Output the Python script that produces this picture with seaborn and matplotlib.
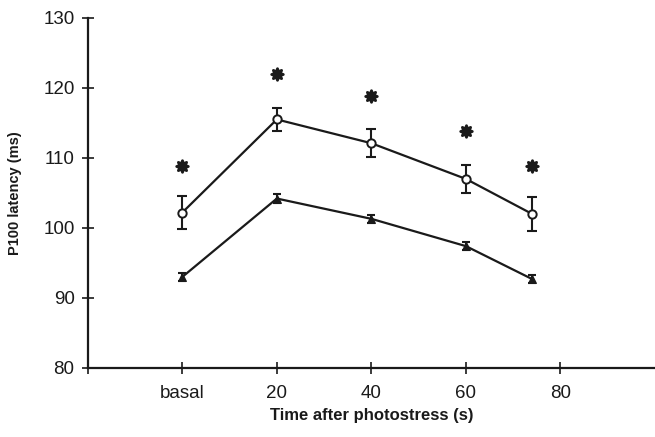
import matplotlib
matplotlib.use("Agg")
import matplotlib.pyplot as plt
import seaborn as sns
import pandas as pd

# --- dados ---
tempos = [0, 20, 40, 60, 74]
media_sup = [102.2, 115.5, 112.1, 107.0, 102.0]
erro_sup = [2.4, 1.6, 2.0, 2.0, 2.4]
media_inf = [93.0, 104.2, 101.3, 97.4, 92.7]
erro_inf = [0.6, 0.6, 0.6, 0.6, 0.6]
asterisco_y = [108.8, 122.0, 118.8, 113.8, 108.9]

xticks = [-20, 0, 20, 40, 60, 80]
xtick_labels = ["", "basal", "20", "40", "60", "80"]
yticks = [80, 90, 100, 110, 120, 130]

sns.set_style("ticks")
plt.rcParams["font.family"] = ["Liberation Sans", "DejaVu Sans"]

df_sup = pd.DataFrame({"t": tempos, "lat": media_sup})
df_inf = pd.DataFrame({"t": tempos, "lat": media_inf})
df_ast = pd.DataFrame({"t": tempos, "lat": asterisco_y})

fig = plt.figure(figsize=(6.55, 4.37), dpi=100)
ax = fig.add_axes([0.134, 0.158, 0.866, 0.801])

# barras de erro
ax.errorbar(tempos, media_sup, yerr=erro_sup, fmt="none", ecolor="#1a1a1a",
            elinewidth=1.5, capsize=3.5, capthick=1.5, zorder=2)
ax.errorbar(tempos, media_inf, yerr=erro_inf, fmt="none", ecolor="#1a1a1a",
            elinewidth=1.5, capsize=3, capthick=1.5, zorder=2)

# linhas com marcadores
sns.lineplot(data=df_sup, x="t", y="lat", ax=ax, color="#1a1a1a", linewidth=1.6,
             marker="o", markersize=6, markerfacecolor="white",
             markeredgecolor="#1a1a1a", markeredgewidth=1.4, zorder=3)
sns.lineplot(data=df_inf, x="t", y="lat", ax=ax, color="#1a1a1a", linewidth=1.6,
             marker="^", markersize=6, markerfacecolor="#1a1a1a",
             markeredgecolor="#1a1a1a", zorder=3)

# asteriscos de significância
sns.scatterplot(data=df_ast, x="t", y="lat", ax=ax, marker=(8, 1, 0), s=70,
                color="#1a1a1a", edgecolor="#1a1a1a", linewidth=2.0, zorder=3)

ax.set_xlim(-20, 100)
ax.set_ylim(80, 130)
ax.set_xticks(xticks)
ax.set_xticklabels(xtick_labels)
ax.set_yticks(yticks)
ax.tick_params(axis="both", direction="inout", length=9, width=1.2,
               labelsize=13.5, colors="#1a1a1a")
ax.tick_params(axis="x", pad=8)
ax.tick_params(axis="y", pad=5)

for s in ["top", "right"]:
    ax.spines[s].set_visible(False)
for s in ["left", "bottom"]:
    ax.spines[s].set_linewidth(1.6)
    ax.spines[s].set_color("#1a1a1a")

ax.set_xlabel("Time after photostress (s)", fontsize=12, fontweight="bold",
              color="#1a1a1a", labelpad=4)
ax.set_ylabel("P100 latency (ms)", fontsize=10.5, fontweight="bold",
              color="#1a1a1a", labelpad=15)

fig.savefig("out.png", dpi=100)
